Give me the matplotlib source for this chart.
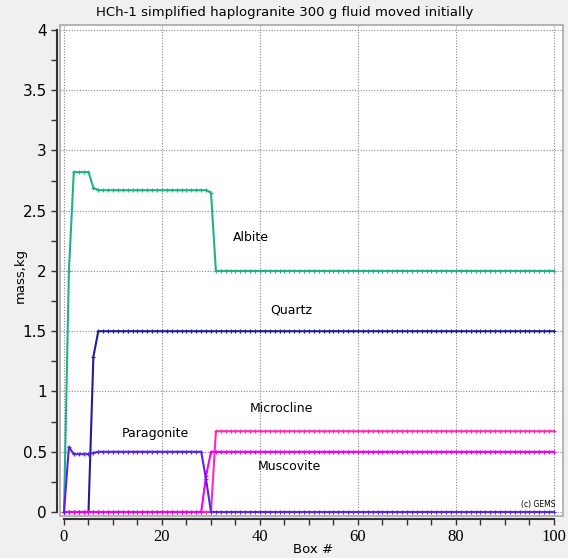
import matplotlib
matplotlib.use("Agg")
import matplotlib.pyplot as plt
from matplotlib.patches import Rectangle
from matplotlib.ticker import MultipleLocator

box = list(range(101))

albite = [
    0.0, 2.0, 2.82, 2.82, 2.82, 2.82, 2.69, 2.67, 2.67, 2.67,
    2.67, 2.67, 2.67, 2.67, 2.67, 2.67, 2.67, 2.67, 2.67, 2.67,
    2.67, 2.67, 2.67, 2.67, 2.67, 2.67, 2.67, 2.67, 2.67, 2.67,
    2.65, 2.0, 2.0, 2.0, 2.0, 2.0, 2.0, 2.0, 2.0, 2.0,
    2.0, 2.0, 2.0, 2.0, 2.0, 2.0, 2.0, 2.0, 2.0, 2.0,
    2.0, 2.0, 2.0, 2.0, 2.0, 2.0, 2.0, 2.0, 2.0, 2.0,
    2.0, 2.0, 2.0, 2.0, 2.0, 2.0, 2.0, 2.0, 2.0, 2.0,
    2.0, 2.0, 2.0, 2.0, 2.0, 2.0, 2.0, 2.0, 2.0, 2.0,
    2.0, 2.0, 2.0, 2.0, 2.0, 2.0, 2.0, 2.0, 2.0, 2.0,
    2.0, 2.0, 2.0, 2.0, 2.0, 2.0, 2.0, 2.0, 2.0, 2.0,
    2.0,
]
quartz = [
    0.0, 0.0, 0.0, 0.0, 0.0, 0.0, 1.29, 1.5, 1.5, 1.5,
    1.5, 1.5, 1.5, 1.5, 1.5, 1.5, 1.5, 1.5, 1.5, 1.5,
    1.5, 1.5, 1.5, 1.5, 1.5, 1.5, 1.5, 1.5, 1.5, 1.5,
    1.5, 1.5, 1.5, 1.5, 1.5, 1.5, 1.5, 1.5, 1.5, 1.5,
    1.5, 1.5, 1.5, 1.5, 1.5, 1.5, 1.5, 1.5, 1.5, 1.5,
    1.5, 1.5, 1.5, 1.5, 1.5, 1.5, 1.5, 1.5, 1.5, 1.5,
    1.5, 1.5, 1.5, 1.5, 1.5, 1.5, 1.5, 1.5, 1.5, 1.5,
    1.5, 1.5, 1.5, 1.5, 1.5, 1.5, 1.5, 1.5, 1.5, 1.5,
    1.5, 1.5, 1.5, 1.5, 1.5, 1.5, 1.5, 1.5, 1.5, 1.5,
    1.5, 1.5, 1.5, 1.5, 1.5, 1.5, 1.5, 1.5, 1.5, 1.5,
    1.5,
]
paragonite = [
    0.0, 0.54, 0.48, 0.48, 0.48, 0.48, 0.49, 0.5, 0.5, 0.5,
    0.5, 0.5, 0.5, 0.5, 0.5, 0.5, 0.5, 0.5, 0.5, 0.5,
    0.5, 0.5, 0.5, 0.5, 0.5, 0.5, 0.5, 0.5, 0.5, 0.27,
    0.0, 0.0, 0.0, 0.0, 0.0, 0.0, 0.0, 0.0, 0.0, 0.0,
    0.0, 0.0, 0.0, 0.0, 0.0, 0.0, 0.0, 0.0, 0.0, 0.0,
    0.0, 0.0, 0.0, 0.0, 0.0, 0.0, 0.0, 0.0, 0.0, 0.0,
    0.0, 0.0, 0.0, 0.0, 0.0, 0.0, 0.0, 0.0, 0.0, 0.0,
    0.0, 0.0, 0.0, 0.0, 0.0, 0.0, 0.0, 0.0, 0.0, 0.0,
    0.0, 0.0, 0.0, 0.0, 0.0, 0.0, 0.0, 0.0, 0.0, 0.0,
    0.0, 0.0, 0.0, 0.0, 0.0, 0.0, 0.0, 0.0, 0.0, 0.0,
    0.0,
]
muscovite = [
    0.0, 0.0, 0.0, 0.0, 0.0, 0.0, 0.0, 0.0, 0.0, 0.0,
    0.0, 0.0, 0.0, 0.0, 0.0, 0.0, 0.0, 0.0, 0.0, 0.0,
    0.0, 0.0, 0.0, 0.0, 0.0, 0.0, 0.0, 0.0, 0.0, 0.3,
    0.5, 0.5, 0.5, 0.5, 0.5, 0.5, 0.5, 0.5, 0.5, 0.5,
    0.5, 0.5, 0.5, 0.5, 0.5, 0.5, 0.5, 0.5, 0.5, 0.5,
    0.5, 0.5, 0.5, 0.5, 0.5, 0.5, 0.5, 0.5, 0.5, 0.5,
    0.5, 0.5, 0.5, 0.5, 0.5, 0.5, 0.5, 0.5, 0.5, 0.5,
    0.5, 0.5, 0.5, 0.5, 0.5, 0.5, 0.5, 0.5, 0.5, 0.5,
    0.5, 0.5, 0.5, 0.5, 0.5, 0.5, 0.5, 0.5, 0.5, 0.5,
    0.5, 0.5, 0.5, 0.5, 0.5, 0.5, 0.5, 0.5, 0.5, 0.5,
    0.5,
]
microcline = [
    0.0, 0.0, 0.0, 0.0, 0.0, 0.0, 0.0, 0.0, 0.0, 0.0,
    0.0, 0.0, 0.0, 0.0, 0.0, 0.0, 0.0, 0.0, 0.0, 0.0,
    0.0, 0.0, 0.0, 0.0, 0.0, 0.0, 0.0, 0.0, 0.0, 0.0,
    0.0, 0.67, 0.67, 0.67, 0.67, 0.67, 0.67, 0.67, 0.67, 0.67,
    0.67, 0.67, 0.67, 0.67, 0.67, 0.67, 0.67, 0.67, 0.67, 0.67,
    0.67, 0.67, 0.67, 0.67, 0.67, 0.67, 0.67, 0.67, 0.67, 0.67,
    0.67, 0.67, 0.67, 0.67, 0.67, 0.67, 0.67, 0.67, 0.67, 0.67,
    0.67, 0.67, 0.67, 0.67, 0.67, 0.67, 0.67, 0.67, 0.67, 0.67,
    0.67, 0.67, 0.67, 0.67, 0.67, 0.67, 0.67, 0.67, 0.67, 0.67,
    0.67, 0.67, 0.67, 0.67, 0.67, 0.67, 0.67, 0.67, 0.67, 0.67,
    0.67,
]

# name, values, colour, label position (x, y)
series = [
    ("Albite", albite, "#22b08a", (34.5, 2.28)),
    ("Quartz", quartz, "#1e1e96", (42.0, 1.68)),
    ("Microcline", microcline, "#ff2ab4", (38.0, 0.86)),
    ("Muscovite", muscovite, "#f000f0", (39.6, 0.38)),
    ("Paragonite", paragonite, "#5a22f0", (11.8, 0.65)),
]

fig = plt.figure(figsize=(5.68, 5.58), dpi=100, facecolor="#f0f0f0")
ax = fig.add_axes([0.1056, 0.0753, 0.8856, 0.88])
ax.set_facecolor("white")

for name, vals, col, (tx, ty) in series:
    ax.plot(box, vals, color=col, lw=1.5, marker="+", ms=2.5, mew=0.8, zorder=3)
    ax.text(tx, ty, name, fontsize=9, ha="left", va="center", color="black")

ax.text(93.3, 0.06, "(c) GEMS", fontsize=5.5, ha="left", va="center")

ax.set_xlim(-0.82, 101.84)
ax.set_ylim(-0.033, 4.041)

ax.xaxis.set_major_locator(MultipleLocator(20))
ax.xaxis.set_minor_locator(MultipleLocator(5))
ax.yaxis.set_major_locator(MultipleLocator(0.5))
ax.yaxis.set_minor_locator(MultipleLocator(0.25))
ax.set_yticks([0, 0.5, 1, 1.5, 2, 2.5, 3, 3.5, 4])
ax.set_yticklabels(["0", "0.5", "1", "1.5", "2", "2.5", "3", "3.5", "4"])

ax.grid(True, which="major", color="#888888", lw=0.8, ls=(0, (1, 1.5)))
ax.set_axisbelow(True)

for s in ["top", "right"]:
    ax.spines[s].set_visible(False)
ax.spines["left"].set_position(("outward", 2.5))
ax.spines["bottom"].set_position(("outward", 2.5))
ax.spines["left"].set_bounds(0, 4)
ax.spines["bottom"].set_bounds(0, 100)
for s in ["left", "bottom"]:
    ax.spines[s].set_color("#333333")
    ax.spines[s].set_linewidth(1.5)

ax.tick_params(which="both", direction="out", length=4, width=1, color="#333333")
ax.tick_params(axis="y", labelsize=11, pad=3)
ax.tick_params(axis="x", labelsize=11, pad=3)
for lab in ax.get_xticklabels():
    lab.set_fontfamily("Liberation Serif")
    lab.set_fontsize(12)

ax.add_patch(Rectangle((0, 0), 1, 1, transform=ax.transAxes, fill=False,
                       edgecolor="#a8a8a8", lw=1.2, clip_on=False, zorder=5))

fig.text(0.502, 0.978, "HCh-1 simplified haplogranite 300 g fluid moved initially",
         ha="center", va="center", fontsize=9.5)
fig.text(0.035, 0.507, "mass,kg", rotation=90, ha="center", va="center", fontsize=9.5)
fig.text(0.551, 0.016, "Box #", ha="center", va="center", fontsize=9.5)

fig.savefig("out.png", dpi=100, facecolor=fig.get_facecolor())
